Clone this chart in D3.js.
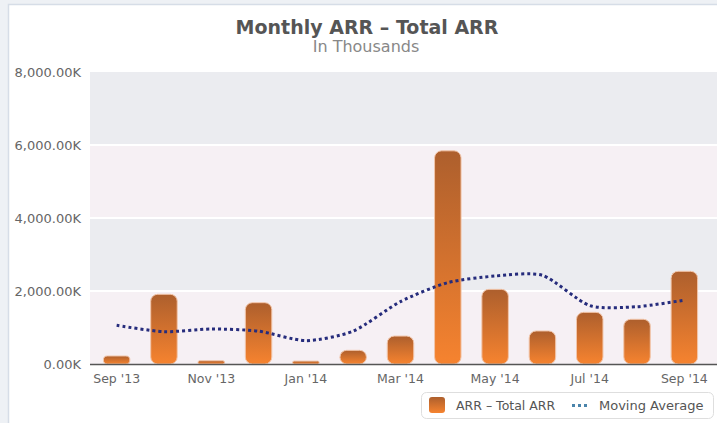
<!DOCTYPE html>
<html>
<head>
<meta charset="utf-8">
<script src="https://cdn.jsdelivr.net/npm/d3@7"></script>
<style>
  body { margin: 0; background: #eef1f5; }
  svg { display: block; font-family: "DejaVu Sans", sans-serif; }
</style>
</head>
<body>
<div id="chart"></div>
<script>
(function () {
  const months = ["Sep '13", "Oct '13", "Nov '13", "Dec '13", "Jan '14", "Feb '14", "Mar '14",
    "Apr '14", "May '14", "Jun '14", "Jul '14", "Aug '14", "Sep '14"];
  // values in thousands
  const arrValues = [220, 1910, 90, 1680, 80, 375, 765, 5840, 2045, 905, 1415, 1225, 2540];
  const movingAvg = [1060, 885, 960, 900, 640, 900, 1710, 2230, 2410, 2430, 1600, 1570, 1750];
  const yTicks = [0, 2000, 4000, 6000, 8000];
  const xLabels = ["Sep '13", "Nov '13", "Jan '14", "Mar '14", "May '14", "Jul '14", "Sep '14"];

  const W = 717, H = 423;
  const plot = { left: 90, right: 717, top: 72, bottom: 364 };

  const svg = d3.select("#chart").append("svg")
    .attr("width", W).attr("height", H);

  const defs = svg.append("defs");
  const grad = defs.append("linearGradient")
    .attr("id", "barGrad").attr("x1", 0).attr("y1", 0).attr("x2", 0).attr("y2", 1);
  grad.append("stop").attr("offset", "0%").attr("stop-color", "#ad5f2d");
  grad.append("stop").attr("offset", "100%").attr("stop-color", "#f6832f");

  // white panel
  svg.append("rect")
    .attr("x", 8.5).attr("y", 4.5).attr("width", W).attr("height", H)
    .attr("fill", "#fff").attr("stroke", "#d6dde7").attr("stroke-width", 1.5);

  const x = d3.scaleBand()
    .domain(months)
    .range([93, 708])
    .paddingInner(0.44)
    .paddingOuter(0.22);

  const y = d3.scaleLinear().domain([0, 8000]).range([plot.bottom, plot.top]);

  // alternating plot bands
  const bands = d3.pairs(yTicks);
  svg.append("g").selectAll("rect")
    .data(bands)
    .join("rect")
    .attr("x", plot.left)
    .attr("y", (d) => y(d[1]))
    .attr("width", plot.right - plot.left)
    .attr("height", (d) => y(d[0]) - y(d[1]))
    .attr("fill", (d, i) => (i % 2 === 0 ? "#f6f0f4" : "#ebecf0"));

  // grid lines
  svg.append("g").selectAll("line")
    .data(yTicks.slice(1, -1))
    .join("line")
    .attr("x1", plot.left).attr("x2", plot.right)
    .attr("y1", (d) => y(d)).attr("y2", (d) => y(d))
    .attr("stroke", "#fff").attr("stroke-width", 2);

  // y axis labels
  const fmt = (v) => d3.format(",.2f")(v) + "K";
  svg.append("g").selectAll("text")
    .data(yTicks)
    .join("text")
    .attr("x", 81)
    .attr("y", (d) => y(d) + 4.5)
    .attr("text-anchor", "end")
    .attr("font-size", 13)
    .attr("fill", "#666")
    .text(fmt);

  // bars
  svg.append("g").selectAll("rect")
    .data(arrValues)
    .join("rect")
    .attr("x", (d, i) => x(months[i]))
    .attr("y", (d) => y(d))
    .attr("width", x.bandwidth())
    .attr("height", (d) => y(0) - y(d))
    .attr("rx", (d) => Math.min(7, (y(0) - y(d)) / 2))
    .attr("fill", "url(#barGrad)")
    .attr("stroke", "#f2c6ab")
    .attr("stroke-width", 1);

  // x axis line
  svg.append("line")
    .attr("x1", plot.left).attr("x2", plot.right)
    .attr("y1", plot.bottom + 0.5).attr("y2", plot.bottom + 0.5)
    .attr("stroke", "#555").attr("stroke-width", 1.5);

  // x labels
  svg.append("g").selectAll("text")
    .data(xLabels)
    .join("text")
    .attr("x", (d) => x(d) + x.bandwidth() / 2)
    .attr("y", 383)
    .attr("text-anchor", "middle")
    .attr("font-size", 12.5)
    .attr("fill", "#666")
    .text((d) => d);

  // moving average
  const line = d3.line()
    .x((d, i) => x(months[i]) + x.bandwidth() / 2)
    .y((d) => y(d))
    .curve(d3.curveCardinal.tension(0.3));

  svg.append("path")
    .datum(movingAvg)
    .attr("d", line)
    .attr("fill", "none")
    .attr("stroke", "#262c7c")
    .attr("stroke-width", 3)
    .attr("stroke-dasharray", "3,3");

  // title
  svg.append("text")
    .attr("x", 367).attr("y", 34)
    .attr("text-anchor", "middle")
    .attr("font-size", 19)
    .attr("font-weight", "bold")
    .attr("fill", "#555")
    .text("Monthly ARR – Total ARR");

  svg.append("text")
    .attr("x", 366).attr("y", 52)
    .attr("text-anchor", "middle")
    .attr("font-size", 16)
    .attr("fill", "#888")
    .text("In Thousands");

  // legend
  const legend = svg.append("g");
  legend.append("rect")
    .attr("x", 421.5).attr("y", 392.5).attr("width", 292).attr("height", 26)
    .attr("rx", 5)
    .attr("fill", "#fff").attr("stroke", "#dedede");
  legend.append("rect")
    .attr("x", 429).attr("y", 397).attr("width", 16).attr("height", 16)
    .attr("rx", 3).attr("fill", "url(#barGrad)");
  legend.append("text")
    .attr("x", 456).attr("y", 410)
    .attr("font-size", 12.5).attr("fill", "#555")
    .text("ARR – Total ARR");
  legend.append("line")
    .attr("x1", 572).attr("x2", 588)
    .attr("y1", 405.5).attr("y2", 405.5)
    .attr("stroke", "#4a84ab").attr("stroke-width", 3)
    .attr("stroke-dasharray", "3,3");
  legend.append("text")
    .attr("x", 599).attr("y", 410)
    .attr("font-size", 13).attr("fill", "#555")
    .text("Moving Average");
})();
</script>
</body>
</html>
